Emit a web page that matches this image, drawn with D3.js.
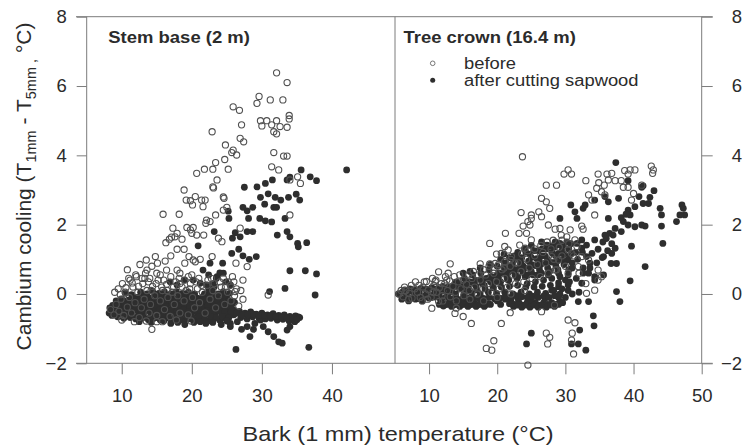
<!DOCTYPE html>
<html><head><meta charset="utf-8">
<script src="https://cdnjs.cloudflare.com/ajax/libs/d3/7.8.5/d3.min.js"></script>
<style>
html,body{margin:0;padding:0;background:#fff;}
svg{display:block;font-family:"Liberation Sans",Arial,sans-serif;}
</style></head>
<body>
<svg id="c" width="743" height="447"></svg>
<script>
// ---------- tick labels ----------
const yTicks = [-2, 0, 2, 4, 6, 8];
const xTicksLeft = [10, 20, 30, 40];
const xTicksRight = [10, 20, 30, 40, 50];
const panelTitles = ["Stem base (2 m)", "Tree crown (16.4 m)"];
const legendLabels = ["before", "after cutting sapwood"];

// ---------- Stem base: before (open circles) ----------
const leftBefore = [
[32.1,6.38],[33.6,6.1],[29.6,5.7],[29.3,5.5],[31.2,5.6],[33.0,5.6],[25.9,5.4],[26.8,5.3],[33.9,5.15],[33.9,5.05],
[29.8,5.0],[30.7,5.0],[32.1,5.0],[30.0,4.85],[31.4,4.88],[32.6,4.83],[33.6,4.81],[27.1,4.88],[22.9,4.68],[31.7,4.68],
[32.1,4.62],[26.9,4.49],[27.4,4.39],[24.8,4.3],[25.9,4.15],[26.4,4.01],[25.7,4.08],[31.7,4.08],[33.1,3.98],[33.6,3.98],
[24.7,3.88],[23.4,3.79],[31.4,3.67],[32.4,3.58],[20.7,3.48],[21.8,3.6],[23.0,3.6],[25.2,3.6],[23.6,3.29],[35.1,3.38],
[34.0,3.29],[35.5,3.19],[23.0,3.09],[23.1,3.06],[18.9,3.0],[19.2,2.71],[19.8,2.69],[20.5,2.81],[21.4,2.71],[21.9,2.71],
[24.5,2.8],[24.6,2.76],[20.1,2.57],[21.6,2.52],[25.0,2.5],[24.5,2.42],[15.9,2.3],[18.2,2.3],[23.4,2.28],[22.1,2.13],
[34.0,2.28],[17.3,1.9],[19.3,1.92],[19.8,1.85],[20.2,1.92],[20.0,1.75],[20.7,1.7],[21.7,1.7],[17.9,1.75],[17.6,1.65],
[16.3,1.48],[16.8,1.58],[17.1,1.64],[18.6,1.58],[17.9,1.29],[18.9,1.29],[22.0,2.04],[22.6,2.09],[23.8,1.61],[24.3,1.51],
[26.9,1.9],[19.6,1.08],[20.2,0.98],[21.2,1.0],[22.9,1.08],[13.5,0.98],[14.8,1.08],[15.1,0.89],[19.0,0.89],[20.5,0.93],
[26.3,0.89],[27.9,0.79],[13.6,0.69],[15.0,0.6],[16.4,0.69],[17.9,0.69],[11.2,0.4],[12.1,0.5],[12.9,0.45],[13.8,0.35],
[18.3,0.6],[19.5,0.5],[27.3,0.4],[26.0,0.35],[25.2,0.35],[26.2,0.07],[30.9,-0.03],[14.3,-1.02],[15.0,-0.8],
[8.4,-0.45],[8.9,-0.6],[9.2,-0.3],[9.6,-0.5],[9.9,-0.15],[10.3,-0.62],[10.5,0.05],[10.8,-0.38],[11.1,-0.1],[11.4,-0.55],
[11.6,0.2],[11.9,-0.25],[12.3,0.05],[12.5,-0.68],[12.8,-0.4],[13.0,0.3],[13.2,-0.15],[13.6,0.1],[13.9,-0.55],[14.1,-0.3],
[14.4,0.22],[14.7,-0.05],[15.0,-0.62],[15.2,0.4],[15.5,-0.2],[15.8,0.1],[16.1,-0.45],[16.4,0.28],[16.6,-0.1],[16.9,-0.65],
[17.2,0.05],[17.5,-0.3],[17.7,0.35],[18.0,-0.05],[18.3,-0.55],[18.6,0.2],[18.9,-0.2],[19.2,0.1],[19.5,-0.6],[19.8,0.3],
[20.1,-0.1],[20.4,-0.4],[20.8,0.15],[21.1,-0.25],[21.5,0.05],[21.9,-0.55],[22.2,0.25],[22.6,-0.15],[23.0,0.1],[23.4,-0.4],
[23.8,-0.05],[24.2,0.2],[24.7,-0.3],[25.1,0.05],[25.6,-0.2],[26.1,-0.05],[26.7,-0.35],[27.3,-0.15],[9.5,0.15],[10.1,0.3],
[11.0,0.45],[12.0,0.55],[13.4,0.6],[14.0,0.45],[15.5,0.55],[16.0,0.4],[17.0,0.5],[18.2,0.45],[20.0,0.55],[21.0,0.45],
[22.8,0.45],[24.5,0.45],[25.8,0.5],[10.0,-0.75],[11.8,-0.8],[13.5,-0.78],[15.8,-0.8],[17.8,-0.75],[19.9,-0.78],
[9.0,0.05],[9.8,-0.02],[10.6,0.18],[11.5,0.32],[12.4,0.22],[13.3,0.45],[14.2,0.1],[14.9,0.3],[15.7,0.2],[16.5,0.1],
[17.4,0.2],[18.3,0.3],[19.0,0.4],[19.7,0.15],[20.6,0.35],[21.4,0.25],[22.3,0.4],[23.2,0.3],[24.0,0.35],[24.8,0.2],
[25.5,0.25],[26.4,0.15],[27.0,0.1],[10.8,0.7],[12.6,0.85],[14.3,0.8],[16.2,0.95],[17.0,1.1]
];

// ---------- Stem base: after cutting sapwood (filled dots) ----------
const leftAfter = [
[42.1,3.58],[35.6,3.58],[36.9,3.38],[37.8,3.27],[34.0,3.37],[33.6,3.29],[31.5,3.29],[30.5,3.19],[29.3,3.09],[27.5,3.08],
[34.9,2.88],[33.8,2.79],[35.4,2.71],[30.9,2.89],[29.8,2.79],[31.9,2.79],[32.7,2.71],[30.4,2.59],[27.3,2.5],[28.7,2.5],
[27.9,2.4],[31.7,2.5],[32.1,2.5],[25.2,2.39],[25.3,2.18],[28.1,2.18],[29.7,2.18],[30.5,2.11],[31.4,2.08],[33.3,2.18],
[23.2,1.8],[26.2,1.77],[27.9,1.8],[28.7,1.8],[32.2,1.7],[33.6,1.8],[34.0,1.65],[25.8,1.61],[26.9,1.65],[20.9,1.39],
[35.1,1.46],[36.4,1.48],[35.2,1.36],[26.7,1.29],[25.7,1.17],[27.3,1.1],[28.2,1.0],[29.2,1.08],[24.4,0.89],[22.6,0.89],
[21.6,0.69],[24.5,0.6],[34.0,0.67],[36.2,0.67],[37.8,0.58],[22.4,0.55],[23.6,0.5],[24.0,0.61],[20.2,0.4],[21.2,0.31],
[22.1,0.26],[18.9,0.4],[17.9,0.26],[16.9,0.35],[23.2,0.21],[22.9,0.07],[22.4,-0.03],[24.9,0.35],[25.5,0.26],[24.5,0.07],
[25.9,-0.22],[33.3,0.16],[31.1,0.07],[37.6,-0.03],[27.9,-0.94],[28.3,-1.23],[28.8,-1.02],[27.1,-1.02],[25.5,-0.94],[29.8,-0.75],
[30.2,-0.94],[30.9,-1.09],[31.7,-1.23],[32.4,-1.38],[32.9,-1.42],[34.0,-0.94],[34.7,-0.8],[35.2,-0.66],[33.6,-1.04],[26.3,-1.6],
[36.7,-1.54],[20.5,-0.3],[21.2,-0.15],[21.8,0.0],[22.4,0.15],[23.0,0.3],[23.5,0.45],
[12.2,-0.1],[13.1,-0.05],[14.0,-0.12],[14.8,-0.02],[15.7,-0.1],[16.5,-0.05],[17.4,-0.12],[18.2,-0.03],[19.1,-0.1],[19.9,-0.05],
[20.8,-0.12],[21.6,-0.08],[22.5,-0.15],[23.3,-0.1],[24.2,-0.18],[25.0,-0.12],
[9.6,-0.28],[10.4,-0.22],[11.3,-0.3],[12.1,-0.24],[13.0,-0.27],[13.8,-0.2],[14.7,-0.3],[15.5,-0.24],[16.4,-0.28],[17.2,-0.2],
[18.1,-0.3],[18.9,-0.25],[19.8,-0.28],[20.6,-0.22],[21.5,-0.3],[22.3,-0.26],[23.2,-0.3],[24.0,-0.25],[24.9,-0.32],[25.7,-0.3],
[8.3,-0.4],[9.1,-0.45],[9.9,-0.38],[10.8,-0.42],[11.6,-0.37],[12.5,-0.44],[13.3,-0.4],[14.2,-0.36],[15.0,-0.43],[15.9,-0.39],
[16.7,-0.45],[17.6,-0.4],[18.4,-0.36],[19.3,-0.44],[20.1,-0.4],[21.0,-0.46],[21.8,-0.41],[22.7,-0.45],[23.5,-0.4],[24.4,-0.46],
[25.2,-0.43],[26.0,-0.47],
[8.2,-0.55],[9.0,-0.58],[9.8,-0.52],[10.7,-0.57],[11.5,-0.53],[12.4,-0.6],[13.2,-0.55],[14.1,-0.52],[14.9,-0.58],[15.8,-0.54],
[16.6,-0.6],[17.5,-0.55],[18.3,-0.52],[19.2,-0.59],[20.0,-0.55],[20.9,-0.6],[21.7,-0.56],[22.6,-0.6],[23.4,-0.55],[24.3,-0.6],
[25.1,-0.57],[26.0,-0.6],
[9.4,-0.66],[10.3,-0.7],[11.2,-0.68],[12.0,-0.72],[12.9,-0.7],[13.8,-0.74],[14.6,-0.7],[15.5,-0.75],[16.3,-0.7],[17.2,-0.76],
[18.0,-0.72],[18.9,-0.78],[19.7,-0.72],[20.6,-0.76],[21.4,-0.72],[22.3,-0.78],[23.1,-0.72],[24.0,-0.76],[24.8,-0.7],
[26.8,-0.5],[27.6,-0.55],[28.4,-0.52],[29.2,-0.58],[30.0,-0.55],[30.8,-0.6],[31.6,-0.57],[32.4,-0.62],[33.2,-0.6],[34.0,-0.65],
[34.8,-0.63],[35.4,-0.68],[27.0,-0.68],[27.9,-0.72],[28.7,-0.66],[29.6,-0.7],[30.5,-0.72],[31.3,-0.7],[32.2,-0.75],[33.0,-0.73],
[33.9,-0.78],[26.5,-0.8],[29.0,-0.85],[25.5,-0.85],[24.2,-0.88],[22.0,-0.85],[19.0,-0.88],[17.0,-0.85],
[10.5,0.02],[11.4,-0.02],[12.7,0.05],[13.6,0.0],[14.4,0.08],[15.3,0.02],[16.1,0.06],[17.0,0.0],[17.8,0.07],[18.7,0.02],
[19.5,0.05],[20.4,0.0],[23.8,0.0],[24.6,-0.05],[25.4,0.02],
[9.2,-0.2],[10.0,-0.15],[10.9,-0.18],[11.7,-0.14],[12.6,-0.17],[13.4,-0.13],[14.3,-0.19],[15.1,-0.15],[16.0,-0.18],[16.8,-0.13],
[17.7,-0.19],[18.5,-0.14],[19.4,-0.18],[20.2,-0.14],[21.1,-0.2],[21.9,-0.16],[22.8,-0.2],[23.6,-0.17],[24.5,-0.22],[25.3,-0.2],[26.1,-0.24],
[8.7,-0.33],[9.5,-0.36],[10.4,-0.31],[11.2,-0.35],[12.1,-0.32],[12.9,-0.36],[13.8,-0.31],[14.6,-0.34],[15.5,-0.31],[16.3,-0.36],
[17.2,-0.32],[18.0,-0.35],[18.9,-0.31],[19.7,-0.35],[20.6,-0.33],[21.4,-0.37],[22.3,-0.34],[23.1,-0.37],[24.0,-0.34],[24.8,-0.38],[25.6,-0.38],
[8.6,-0.48],[9.4,-0.5],[10.3,-0.47],[11.1,-0.5],[12.0,-0.46],[12.8,-0.5],[13.7,-0.47],[14.5,-0.5],[15.4,-0.47],[16.2,-0.51],
[17.1,-0.48],[17.9,-0.5],[18.8,-0.46],[19.6,-0.5],[20.5,-0.48],[21.3,-0.52],[22.2,-0.49],[23.0,-0.52],[23.9,-0.49],[24.7,-0.53],
[25.6,-0.52],[26.4,-0.55],[27.2,-0.6],[28.0,-0.6],[28.8,-0.58],[29.6,-0.62],[30.4,-0.62],[31.2,-0.64],[32.0,-0.65],[32.8,-0.67],
[33.6,-0.7],[34.4,-0.7],[35.0,-0.74],
[8.6,-0.62],[9.9,-0.64],[10.8,-0.62],[11.6,-0.65],[12.5,-0.63],[13.3,-0.66],[14.2,-0.63],[15.0,-0.68],[15.9,-0.64],[16.7,-0.67],
[17.6,-0.63],[18.4,-0.67],[19.3,-0.64],[20.1,-0.68],[21.0,-0.65],[21.8,-0.68],[22.7,-0.65],[23.5,-0.69],[24.4,-0.65],[25.3,-0.68],
[12.5,-0.8],[14.2,-0.82],[16.0,-0.78],[18.0,-0.82],[20.3,-0.82],[21.2,-0.8],[23.0,-0.82],[25.0,-0.78]
];

// ---------- Tree crown: before (open circles) ----------
const rightBefore = [
[23.7,3.96],[29.8,3.46],[30.4,3.58],[30.9,3.46],[34.8,3.46],[36.1,3.46],[36.8,3.48],[38.7,3.56],[39.5,3.58],[40.2,3.58],
[39.2,3.46],[42.6,3.69],[42.9,3.58],[42.8,3.48],[27.2,3.14],[28.7,3.14],[33.0,3.27],[34.9,3.21],[35.7,3.14],[36.3,3.29],
[37.3,3.27],[38.2,3.27],[34.6,3.05],[35.3,2.95],[35.8,2.86],[38.5,3.08],[39.2,3.08],[41.2,3.14],[33.4,2.86],[33.9,2.71],
[39.7,2.71],[40.0,2.9],[26.5,2.76],[27.2,2.66],[27.7,2.47],[23.5,2.35],[26.1,2.37],[25.0,2.28],[26.5,2.23],[34.3,2.28],
[23.8,1.96],[24.8,1.99],[25.0,2.18],[24.5,2.09],[27.5,1.99],[28.5,1.87],[29.2,1.89],[29.4,1.7],[30.2,1.65],[30.7,1.85],
[32.4,1.96],[32.6,1.87],[21.2,1.75],[23.2,1.75],[24.3,1.75],[25.0,1.56],[18.9,1.46],[21.1,1.37],[21.6,1.27],[23.3,1.41],
[24.1,1.32],[31.4,1.56],[31.7,1.37],[19.9,1.15],[20.6,1.17],[22.1,1.08],[30.4,1.27],[30.9,1.17],[17.5,0.87],[18.9,0.87],
[19.7,0.88],[21.1,0.93],[13.1,0.87],[11.4,0.64],[12.8,0.6],[12.6,0.4],[10.9,0.36],[9.6,0.36],[28.0,1.08],[29.0,0.98],
[32.4,1.08],[33.4,0.98],[34.8,0.69],[35.3,0.5],[28.5,0.69],[30.4,0.6],[31.9,0.79],[11.4,-0.22],[10.4,-0.41],[14.0,-0.41],
[13.8,-0.56],[15.0,-0.65],[16.2,-0.85],[20.6,-0.85],[21.9,-0.54],[18.4,-1.57],[19.2,-1.62],[19.5,-1.35],[24.5,-2.05],[26.5,-0.51],
[28.4,-0.32],[27.2,-1.13],[27.7,-1.25],[27.4,-1.44],[30.4,-0.75],[31.4,-0.83],[31.0,-1.13],[30.9,-1.33],[31.2,-1.73],[34.3,0.11],
[33.1,0.02],[34.8,0.4],
[5.6,0.0],[6.2,-0.08],[6.6,0.1],[7.1,0.02],[7.5,-0.12],[7.9,0.15],[8.3,0.05],[8.7,-0.1],[9.1,0.2],[9.5,0.0],
[9.9,0.12],[10.3,-0.1],[10.7,0.25],[11.1,0.05],[11.5,0.18],[11.9,-0.05],[12.3,0.3],[12.7,0.1],[13.1,-0.08],[13.5,0.22],
[13.9,0.05],[14.3,0.35],[14.7,0.15],[15.1,-0.05],[15.5,0.28],[15.9,0.1],[16.3,0.45],[16.7,0.2],[17.1,0.0],[17.5,0.4],
[17.9,0.15],[18.3,0.55],[18.7,0.3],[19.1,0.05],[19.5,0.6],[19.9,0.35],[20.3,0.15],[20.7,0.7],[21.1,0.45],[21.5,0.2],
[21.9,0.8],[22.3,0.55],[22.7,0.3],[23.1,0.9],[23.5,0.65],[23.9,0.35],[24.3,1.0],[24.7,0.75],[25.1,0.45],[25.5,1.1],
[25.9,0.85],[26.3,0.5],[26.7,1.2],[27.1,0.9],[27.5,0.6],[27.9,1.3],[28.3,1.0],[28.7,0.7],[29.1,1.35],[29.5,1.1],
[30.0,0.8],[8.0,0.35],[9.0,-0.2],[10.5,0.45],[12.0,-0.2],[14.0,-0.2],[16.0,-0.15],[18.0,-0.2],[20.0,-0.1],[22.0,0.0],[24.0,0.1],
[5.9,0.1],[6.4,0.2],[7.0,-0.15],[7.4,0.25],[8.5,0.25],[9.3,0.35],[9.8,-0.15],[10.6,0.05],[11.0,0.4],[11.8,0.3],
[12.4,0.5],[13.0,0.38],[13.7,0.5],[14.5,0.55],[15.0,0.4],[15.8,0.55],[16.5,0.65],[17.2,0.55],[18.0,0.7],[18.8,0.8],
[19.5,0.7],[20.2,0.85],[21.0,0.75],[22.0,1.0],[22.6,0.9],[23.6,1.15],[24.5,1.25],[25.5,1.3],[26.4,1.4],[27.3,1.5],
[28.2,1.55],[29.5,1.55],[30.5,1.45],[31.2,1.1],[32.0,0.6],[33.0,0.3]
];

// ---------- Tree crown: after cutting sapwood (filled dots) ----------
const rightAfter = [
[37.4,3.79],[39.2,3.27],[41.2,3.08],[43.0,2.98],[42.4,2.79],[42.2,2.61],[41.4,3.12],[40.8,2.81],[37.8,2.76],[30.8,2.57],
[31.4,2.37],[32.6,2.47],[32.9,2.57],[34.3,2.71],[36.3,2.66],[35.8,2.81],[39.2,2.42],[40.2,2.52],[41.4,2.61],[39.5,2.28],
[43.9,2.47],[44.1,2.28],[44.1,1.96],[41.7,1.96],[44.3,1.46],[47.1,2.57],[47.3,2.47],[47.5,2.28],[46.3,2.09],[46.8,2.28],
[29.2,2.18],[31.7,2.18],[36.3,2.18],[38.5,2.09],[39.2,1.99],[40.2,1.94],[41.2,1.99],[38.2,1.8],[37.3,1.89],[36.5,1.75],
[35.8,1.7],[34.3,1.56],[34.8,1.29],[35.6,1.08],[36.8,1.17],[37.3,1.32],[39.7,1.38],[41.7,0.79],[39.5,0.38],[37.5,0.88],
[36.7,0.88],[35.6,0.55],[34.3,0.5],[32.4,1.32],[33.1,1.08],[32.4,1.56],[30.9,1.17],[30.4,0.98],[29.0,1.17],[33.4,0.6],
[34.3,0.4],[32.4,0.31],[30.4,0.26],[29.0,0.21],[28.0,0.11],[37.5,0.07],[38.0,-0.22],[31.9,-0.22],[33.4,-0.22],[34.1,-0.63],
[34.2,-0.92],[25.0,-1.13],[24.3,-1.44],[32.1,-1.04],[30.9,-1.44],[31.9,-1.44],[33.0,-1.62],
[27.3,1.41],[29.2,1.46],[31.7,1.46],[33.1,1.41],[33.9,1.17],[33.6,0.89],[32.6,0.75],
[5.5,0.0],[6.1,0.05],[6.7,-0.05],[7.3,0.08],[7.9,-0.02],[8.5,0.06],[9.1,-0.06],[9.7,0.04],[10.3,-0.04],[10.9,0.08],
[11.5,-0.03],[12.1,0.1],[12.7,-0.05],[13.3,0.12],[13.9,0.0],[14.5,0.15],[15.1,-0.02],[15.7,0.18],[16.3,0.02],[16.9,0.22],
[17.5,0.0],[18.1,0.25],[18.7,0.05],[19.3,0.3],[19.9,0.02],[20.5,0.35],[21.1,0.05],[21.7,0.4],[22.3,0.0],[22.9,0.45],
[23.5,0.05],[24.1,0.5],[24.7,0.0],[25.3,0.55],[25.9,0.05],[26.5,0.6],[27.1,0.02],[27.7,0.65],[28.3,0.1],[28.9,0.7],[29.5,0.15],
[14.0,0.35],[15.2,0.45],[16.4,0.55],[17.6,0.6],[18.8,0.7],[20.0,0.8],[21.2,0.9],[22.4,0.95],[23.6,1.05],[24.8,1.15],
[26.0,1.25],[27.2,1.3],[28.4,1.35],[29.6,1.4],[19.0,0.5],[20.2,0.6],[21.4,0.65],[22.6,0.7],[23.8,0.8],[25.0,0.85],
[26.2,0.95],[27.4,1.0],[28.6,1.1],[29.8,1.15],[24.4,0.3],[25.6,0.35],[26.8,0.4],[28.0,0.45],[29.2,0.5],[30.4,0.55],
[31.0,0.9],[31.5,1.2],[23.0,1.2],[21.0,1.15],[26.5,1.5],[25.0,1.4],
[11.8,-0.22],[12.4,-0.3],[13.0,-0.24],[13.6,-0.32],[14.2,-0.25],[14.8,-0.3],[15.4,-0.24],[16.0,-0.3],[16.6,-0.25],[17.2,-0.3],
[17.8,-0.24],[18.4,-0.3],[6.0,-0.15],[7.0,-0.2],[8.0,-0.15],[9.0,-0.2],[22.0,-0.2],[22.6,-0.3],[23.2,-0.25],[23.8,-0.32],
[24.4,-0.24],[25.0,-0.3],[25.6,-0.25],[26.2,-0.32],[26.8,-0.26],[27.4,-0.3],[28.0,-0.25],[28.6,-0.3],[29.2,-0.22],[30.0,-0.1],
[31.0,0.0],[32.0,0.05],[23.0,-0.12],[25.0,-0.15],[27.0,-0.12],[29.0,-0.1],
[30.6,0.35],[31.6,0.45],[32.6,0.6],[33.6,0.75],[34.6,0.9],[35.4,1.05],[36.2,1.25],[36.8,1.45],[35.5,1.5],[36.0,1.6],
[37.0,1.7],[38.2,2.2],[38.9,2.3],
[6.4,0.12],[7.2,0.15],[8.0,0.12],[8.8,0.16],[9.6,0.14],[10.4,0.18],[11.2,0.15],[12.0,0.22],[12.8,0.2],[13.6,0.25],
[14.4,0.3],[15.2,0.28],[16.0,0.35],[16.8,0.4],[17.6,0.42],[18.4,0.45],[19.2,0.5],[20.0,0.55],[20.8,0.6],[21.6,0.62],
[22.4,0.66],[23.2,0.72],[24.0,0.75],[24.8,0.78],[25.6,0.82],[26.4,0.85],[27.2,0.9],[28.0,0.92],[28.8,0.95],[29.6,1.0],
[6.8,-0.12],[7.6,-0.1],[8.4,-0.13],[9.2,-0.08],[10.0,-0.12],[10.8,-0.09],[11.6,-0.13],[12.4,-0.1],[13.2,-0.14],[14.0,-0.12],
[14.8,-0.15],[15.6,-0.12],[16.4,-0.14],[17.2,-0.11],[18.0,-0.13],[18.8,-0.1],[19.6,-0.14],[20.4,-0.12],[21.2,-0.15],[22.0,-0.1],
[22.8,-0.05],[23.6,-0.08],[24.4,-0.1],[25.2,-0.06],[26.0,-0.1],[26.8,-0.06],[27.6,-0.1],[28.4,-0.05],[29.2,0.0],[30.4,0.1],
[15.8,0.08],[17.0,0.12],[18.2,0.15],[19.4,0.18],[20.6,0.2],[21.8,0.22],[23.0,0.25],[24.2,0.2],[25.4,0.2],[26.6,0.22],
[27.8,0.25],[29.0,0.32],[30.0,0.4],[20.0,0.35],[21.5,0.42],[23.0,0.5],[24.5,0.55],[26.0,0.55],[27.5,0.55],[29.0,0.6],
[30.5,0.7],[22.0,0.8],[23.5,0.95],[25.0,1.05],[26.5,1.1],[28.0,1.2],[29.5,1.25],[30.5,1.3],[31.8,1.0],[32.5,1.2],
[30.8,1.45],[28.5,1.5],[24.0,1.3],[22.5,1.1],[20.5,1.0],[19.0,0.85],[17.5,0.75],[16.0,0.65],[15.0,0.6],
[11.5,-0.3],[12.1,-0.35],[12.7,-0.3],[13.3,-0.36],[13.9,-0.3],[14.5,-0.36],[15.1,-0.3],[15.7,-0.36],[16.3,-0.3],[16.9,-0.36],
[17.5,-0.3],[18.1,-0.36],[18.7,-0.28],[21.8,-0.28],[22.4,-0.36],[23.0,-0.32],[23.6,-0.38],[24.2,-0.32],[24.8,-0.38],[25.4,-0.32],
[26.0,-0.38],[26.6,-0.32],[27.2,-0.38],[27.8,-0.32],[28.4,-0.36],[29.0,-0.3],[29.6,-0.25],
[13.0,0.05],[14.2,0.2],[15.4,0.12],[16.6,0.3],[17.8,0.3],[19.0,0.35],[20.2,0.45],[21.4,0.5],[22.6,0.55],[23.8,0.62],
[25.0,0.65],[26.2,0.7],[27.4,0.75],[28.6,0.82],[29.8,0.85],[31.0,0.75],[21.0,0.75],[22.2,0.82],[23.4,0.88],[24.6,0.95],
[25.8,1.02],[27.0,1.1],[28.2,1.15],[29.4,1.2],[30.6,1.1],[24.2,1.2],[25.4,1.25],[26.6,1.3],[27.8,1.38],[29.0,1.42],
[30.2,1.5],[21.8,1.05],[23.0,1.05],[20.0,-0.2],[19.0,-0.3],[20.5,-0.3],[21.2,-0.05]
];

// ---------- layout ----------
const svg = d3.select("#c");
const TOP = 16.7, BOT = 363.3, L = 86.7, MID = 395, R = 701.7;
const y = d3.scaleLinear().domain([-2, 8]).range([BOT, TOP]);
const xL = d3.scaleLinear().domain([5, 49]).range([L, MID]);
const xR = d3.scaleLinear().domain([5, 50]).range([MID, R]);
const frameCol = "#7c7c7c", textCol = "#2b2b2b";

// frame lines
const fr = svg.append("g").attr("stroke", frameCol).attr("stroke-width", 1).attr("fill", "none");
fr.append("line").attr("x1", 76).attr("x2", 712.7).attr("y1", TOP).attr("y2", TOP);
fr.append("line").attr("x1", 76).attr("x2", 712.7).attr("y1", BOT).attr("y2", BOT);
fr.append("line").attr("x1", L).attr("x2", L).attr("y1", TOP).attr("y2", BOT);
fr.append("line").attr("x1", MID).attr("x2", MID).attr("y1", TOP).attr("y2", BOT);
fr.append("line").attr("x1", R).attr("x2", R).attr("y1", TOP).attr("y2", BOT);

function styleAxis(g) {
  g.select(".domain").remove();
  g.selectAll(".tick line").attr("stroke", frameCol);
  g.selectAll(".tick text").attr("fill", textCol).attr("font-size", 18.5)
    .attr("font-family", "Liberation Sans, Arial, sans-serif");
}
svg.append("g").attr("transform", `translate(${L},0)`)
  .call(d3.axisLeft(y).tickValues(yTicks).tickSize(10).tickPadding(10).tickFormat(d3.format("d")))
  .call(styleAxis);
svg.append("g").attr("transform", `translate(${R},0)`)
  .call(d3.axisRight(y).tickValues(yTicks).tickSize(11).tickPadding(19).tickFormat(d3.format("d")))
  .call(styleAxis)
  .call(g => g.selectAll(".tick text").attr("text-anchor", "end").attr("x", 40.3));
svg.append("g").attr("transform", `translate(0,${BOT})`)
  .call(d3.axisBottom(xL).tickValues(xTicksLeft).tickSize(11).tickPadding(15).tickFormat(d3.format("d")))
  .call(styleAxis);
svg.append("g").attr("transform", `translate(0,${BOT})`)
  .call(d3.axisBottom(xR).tickValues(xTicksRight).tickSize(11).tickPadding(15).tickFormat(d3.format("d")))
  .call(styleAxis);

// points
function drawPanel(x, before, after) {
  const g = svg.append("g");
  g.selectAll("circle.a").data(after).join("circle").attr("class", "a")
    .attr("cx", d => x(d[0])).attr("cy", d => y(d[1])).attr("r", 3.4)
    .attr("fill", "#2e2e2e");
  g.selectAll("circle.b").data(before).join("circle").attr("class", "b")
    .attr("cx", d => x(d[0])).attr("cy", d => y(d[1])).attr("r", 3.1)
    .attr("fill", "none").attr("stroke", "#505050").attr("stroke-width", 1.1);
}
drawPanel(xL, leftBefore, leftAfter);
drawPanel(xR, rightBefore, rightAfter);

// panel titles
const SX = 1.12;
function stretchText(x, yy, txt, size, weight, anchor) {
  return svg.append("text").attr("transform", `translate(${x},${yy}) scale(${SX},1)`)
    .attr("font-size", size).attr("font-weight", weight || "normal")
    .attr("text-anchor", anchor || "start").attr("fill", textCol).text(txt);
}
stretchText(108.3, 42.5, panelTitles[0], 16.5, "bold");
stretchText(403.5, 42.5, panelTitles[1], 16.5, "bold");

// legend
svg.append("circle").attr("cx", 432.7).attr("cy", 63.3).attr("r", 2.3)
  .attr("fill", "none").attr("stroke", "#777").attr("stroke-width", 1);
svg.append("circle").attr("cx", 432.7).attr("cy", 80.3).attr("r", 2.5).attr("fill", "#2e2e2e");
stretchText(464, 68.5, legendLabels[0], 16.4);
stretchText(464, 86, legendLabels[1], 16.4);

// x axis title
stretchText(398, 441, "Bark (1 mm) temperature (°C)", 21, "normal", "middle");

// y axis title
const yt = svg.append("text").attr("transform", "translate(31,186.5) rotate(-90)")
  .attr("text-anchor", "middle").attr("font-size", 21).attr("fill", textCol);
yt.append("tspan").text("Cambium cooling (T");
yt.append("tspan").attr("font-size", 14.5).attr("dy", 5).text("1mm");
yt.append("tspan").attr("dy", -5).text(" - T");
yt.append("tspan").attr("font-size", 14.5).attr("dy", 5).text("5mm ,");
yt.append("tspan").attr("dy", -5).text(" °C)");
</script>
</body></html>
